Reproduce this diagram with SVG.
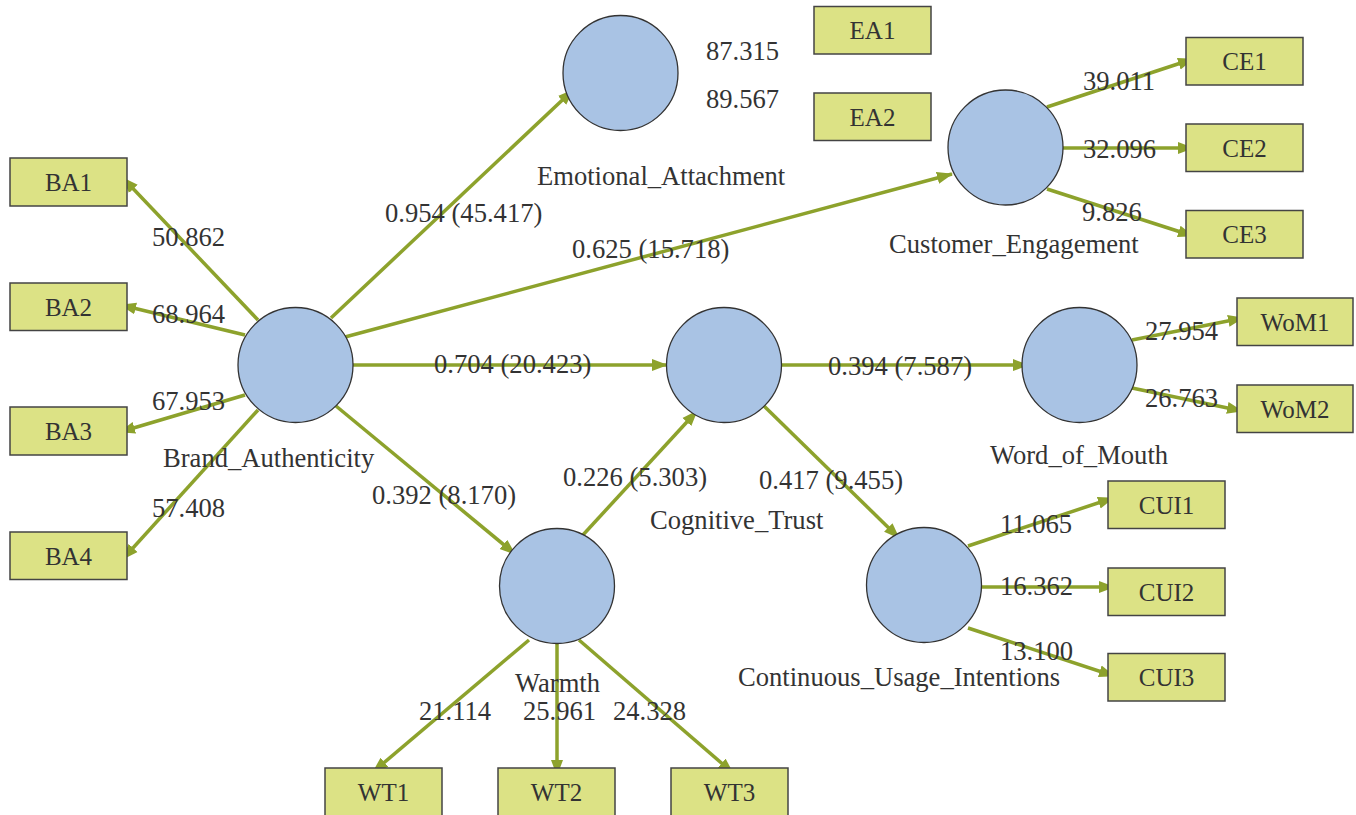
<svg xmlns="http://www.w3.org/2000/svg" width="1356" height="815" viewBox="0 0 1356 815">
<style>
.bg{fill:#ffffff}
.lat{fill:#a9c3e4;stroke:#333333;stroke-width:1.3}
.ind{fill:#dce285;stroke:#444444;stroke-width:1.5}
.edge{stroke:#8da22c;stroke-width:3.5;fill:none;marker-end:url(#ah)}
text{font-family:"Liberation Serif","Times New Roman",serif;fill:#333333}
.lbl{font-size:26.6px}
.box{font-size:25px;text-anchor:middle}
</style>
<defs>
<marker id="ah" markerUnits="userSpaceOnUse" markerWidth="16" markerHeight="13" refX="15" refY="6.5" orient="auto">
<path d="M0,0.5 L16,6.5 L0,12.5 z" fill="#8da22c"/>
</marker>
</defs>
<rect class="bg" x="0" y="0" width="1356" height="815"/>
<g id="connectors">
<line class="edge" x1="258" y1="320" x2="123" y2="178"/>
<line class="edge" x1="245" y1="335" x2="121" y2="305"/>
<line class="edge" x1="245" y1="395" x2="120" y2="432"/>
<line class="edge" x1="258" y1="410" x2="123" y2="559"/>
<line class="edge" x1="331" y1="318" x2="573" y2="90"/>
<line class="edge" x1="345" y1="337" x2="952" y2="174"/>
<line class="edge" x1="353" y1="365" x2="667" y2="365"/>
<line class="edge" x1="336" y1="406" x2="515" y2="554"/>
<line class="edge" x1="582" y1="536" x2="697" y2="411"/>
<line class="edge" x1="782" y1="365" x2="1028" y2="365"/>
<line class="edge" x1="764" y1="406" x2="899" y2="538"/>
<line class="edge" x1="1047" y1="107" x2="1193" y2="59"/>
<line class="edge" x1="1063" y1="148" x2="1193" y2="148"/>
<line class="edge" x1="1047" y1="189" x2="1193" y2="236"/>
<line class="edge" x1="1132" y1="340" x2="1243" y2="318"/>
<line class="edge" x1="1132" y1="388" x2="1242" y2="411"/>
<line class="edge" x1="968" y1="546" x2="1113" y2="498"/>
<line class="edge" x1="982" y1="587" x2="1114" y2="587"/>
<line class="edge" x1="968" y1="628" x2="1114" y2="676"/>
<line class="edge" x1="529" y1="640" x2="373" y2="772"/>
<line class="edge" x1="557" y1="644" x2="557" y2="775"/>
<line class="edge" x1="579" y1="640" x2="733" y2="773"/>
</g>
<g id="Emotional_Attachment"><circle class="lat" cx="620.5" cy="73" r="57.5"/><text class="lbl" x="537" y="185">Emotional_Attachment</text></g>
<g id="Customer_Engagement"><circle class="lat" cx="1005.5" cy="147.5" r="57.5"/><text class="lbl" x="889" y="253">Customer_Engagement</text></g>
<g id="Brand_Authenticity"><circle class="lat" cx="295.5" cy="365" r="57.5"/><text class="lbl" x="163" y="467">Brand_Authenticity</text></g>
<g id="Cognitive_Trust"><circle class="lat" cx="724" cy="365" r="57.5"/><text class="lbl" x="650" y="529">Cognitive_Trust</text></g>
<g id="Word_of_Mouth"><circle class="lat" cx="1079.5" cy="365" r="57.5"/><text class="lbl" x="990" y="464">Word_of_Mouth</text></g>
<g id="Warmth"><circle class="lat" cx="557" cy="586" r="57.5"/><text class="lbl" x="515" y="692">Warmth</text></g>
<g id="Continuous_Usage_Intentions"><circle class="lat" cx="924" cy="585" r="57.5"/><text class="lbl" x="738" y="686">Continuous_Usage_Intentions</text></g>
<g id="EA1"><rect class="ind" x="814" y="6.5" width="117" height="47.5"/><text class="box" x="872.5" y="39">EA1</text></g>
<g id="EA2"><rect class="ind" x="814" y="93" width="117" height="47.5"/><text class="box" x="872.5" y="125.5">EA2</text></g>
<g id="BA1"><rect class="ind" x="10" y="158" width="117" height="48"/><text class="box" x="68.5" y="191">BA1</text></g>
<g id="BA2"><rect class="ind" x="10" y="283" width="117" height="47.5"/><text class="box" x="68.5" y="315.5">BA2</text></g>
<g id="BA3"><rect class="ind" x="10" y="407" width="117" height="48"/><text class="box" x="68.5" y="440">BA3</text></g>
<g id="BA4"><rect class="ind" x="10" y="532" width="117" height="47.5"/><text class="box" x="68.5" y="564.5">BA4</text></g>
<g id="CE1"><rect class="ind" x="1186" y="37.5" width="117" height="47.5"/><text class="box" x="1244.5" y="70">CE1</text></g>
<g id="CE2"><rect class="ind" x="1186" y="124" width="117" height="47.5"/><text class="box" x="1244.5" y="156.5">CE2</text></g>
<g id="CE3"><rect class="ind" x="1186" y="210.5" width="117" height="47.5"/><text class="box" x="1244.5" y="243">CE3</text></g>
<g id="WoM1"><rect class="ind" x="1237" y="298" width="116" height="47.5"/><text class="box" x="1295" y="330.5">WoM1</text></g>
<g id="WoM2"><rect class="ind" x="1237" y="385" width="116" height="47.5"/><text class="box" x="1295" y="417.5">WoM2</text></g>
<g id="CUI1"><rect class="ind" x="1108" y="481" width="117" height="47.5"/><text class="box" x="1166.5" y="513.5">CUI1</text></g>
<g id="CUI2"><rect class="ind" x="1108" y="568" width="117" height="47.5"/><text class="box" x="1166.5" y="600.5">CUI2</text></g>
<g id="CUI3"><rect class="ind" x="1108" y="653.5" width="117" height="47.5"/><text class="box" x="1166.5" y="686">CUI3</text></g>
<g id="WT1"><rect class="ind" x="325" y="768" width="117" height="48"/><text class="box" x="383.5" y="801">WT1</text></g>
<g id="WT2"><rect class="ind" x="498" y="768" width="117" height="48"/><text class="box" x="556.5" y="801">WT2</text></g>
<g id="WT3"><rect class="ind" x="671" y="768" width="117" height="48"/><text class="box" x="729.5" y="801">WT3</text></g>
<g id="labels">
<text class="lbl" x="706" y="60">87.315</text>
<text class="lbl" x="706" y="108">89.567</text>
<text class="lbl" x="385" y="222">0.954 (45.417)</text>
<text class="lbl" x="572" y="258">0.625 (15.718)</text>
<text class="lbl" x="1083" y="90">39.011</text>
<text class="lbl" x="1083" y="158">32.096</text>
<text class="lbl" x="1082" y="221">9.826</text>
<text class="lbl" x="152" y="246">50.862</text>
<text class="lbl" x="152" y="323">68.964</text>
<text class="lbl" x="152" y="410">67.953</text>
<text class="lbl" x="152" y="517">57.408</text>
<text class="lbl" x="434" y="373">0.704 (20.423)</text>
<text class="lbl" x="828" y="375">0.394 (7.587)</text>
<text class="lbl" x="1145" y="340">27.954</text>
<text class="lbl" x="1145" y="407">26.763</text>
<text class="lbl" x="372" y="504">0.392 (8.170)</text>
<text class="lbl" x="563" y="486">0.226 (5.303)</text>
<text class="lbl" x="759" y="489">0.417 (9.455)</text>
<text class="lbl" x="1000" y="533">11.065</text>
<text class="lbl" x="1000" y="595">16.362</text>
<text class="lbl" x="1000" y="660">13.100</text>
<text class="lbl" x="419" y="720">21.114</text>
<text class="lbl" x="523" y="720">25.961</text>
<text class="lbl" x="613" y="720">24.328</text>
</g>
</svg>
